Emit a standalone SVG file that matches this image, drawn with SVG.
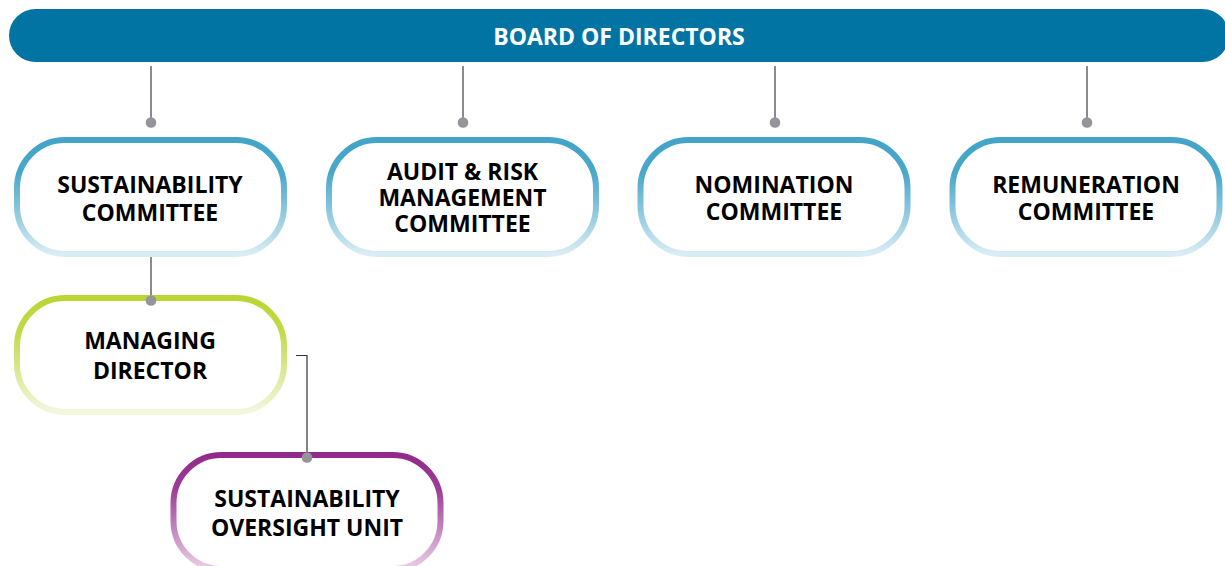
<svg xmlns="http://www.w3.org/2000/svg" width="1225" height="566" viewBox="0 0 1225 566">
  <defs>
    <linearGradient id="gBlue" x1="0" y1="0" x2="0" y2="1">
      <stop offset="0" stop-color="#43a4c8"/>
      <stop offset="0.3" stop-color="#4aa8ca"/>
      <stop offset="1" stop-color="#d9edf4"/>
    </linearGradient>
    <linearGradient id="gGreen" x1="0" y1="0" x2="0" y2="1">
      <stop offset="0" stop-color="#bbd532"/>
      <stop offset="0.3" stop-color="#c3da4c"/>
      <stop offset="1" stop-color="#f2f7de"/>
    </linearGradient>
    <linearGradient id="gPurple" x1="0" y1="0" x2="0" y2="1">
      <stop offset="0" stop-color="#922a8b"/>
      <stop offset="0.3" stop-color="#9c3d96"/>
      <stop offset="1" stop-color="#ead0e6"/>
    </linearGradient>
  </defs>
  <style>
    text { font-family: "Open Sans", "Liberation Sans", sans-serif; font-weight: bold; font-size: 23px; text-anchor: middle; fill: #000; }
    .title { fill: #fff; }
    .box { fill: #fff; stroke-width: 6; }
    .blue { stroke: url(#gBlue); }
    .green { stroke: url(#gGreen); }
    .purple { stroke: url(#gPurple); }
    .link { stroke: #6d6e71; stroke-width: 1.6; fill: none; }
    .thin { stroke: #333; stroke-width: 1.2; fill: none; }
    .dot { fill: #939598; }
  </style>

  <!-- top bar -->
  <g id="board">
    <rect x="9" y="9" width="1220" height="53" rx="26.5" fill="#0274a3"/>
    <text class="title" x="619" y="45">BOARD OF DIRECTORS</text>
  </g>

  <!-- reporting lines -->
  <g id="connectors">
    <line class="link" x1="151" y1="66" x2="151" y2="122"/>
    <line class="link" x1="463" y1="66" x2="463" y2="122"/>
    <line class="link" x1="775" y1="66" x2="775" y2="122"/>
    <line class="link" x1="1087" y1="66" x2="1087" y2="122"/>
    <line class="link" x1="151" y1="252" x2="151" y2="300"/>
    <path class="thin" d="M296,355.5 H307 V457"/>
    <circle class="dot" cx="151" cy="122.5" r="5.3"/>
    <circle class="dot" cx="463" cy="122.5" r="5.3"/>
    <circle class="dot" cx="775" cy="122.5" r="5.3"/>
    <circle class="dot" cx="1087" cy="122.5" r="5.3"/>
  </g>

  <g id="sustainability-committee">
    <rect class="box blue" x="17" y="140" width="267" height="114" rx="48"/>
    <text x="150" y="193">SUSTAINABILITY</text>
    <text x="150" y="221">COMMITTEE</text>
  </g>

  <g id="audit-risk-committee">
    <rect class="box blue" x="329" y="140" width="267" height="114" rx="48"/>
    <text x="462.5" y="180">AUDIT &amp; RISK</text>
    <text x="462.5" y="206">MANAGEMENT</text>
    <text x="462.5" y="232">COMMITTEE</text>
  </g>

  <g id="nomination-committee">
    <rect class="box blue" x="640.5" y="140" width="267" height="114" rx="48"/>
    <text x="774" y="193">NOMINATION</text>
    <text x="774" y="220">COMMITTEE</text>
  </g>

  <g id="remuneration-committee">
    <rect class="box blue" x="952.5" y="140" width="267" height="114" rx="48"/>
    <text x="1086" y="193">REMUNERATION</text>
    <text x="1086" y="220">COMMITTEE</text>
  </g>

  <g id="managing-director">
    <rect class="box green" x="17" y="298" width="267" height="114" rx="48"/>
    <text x="150" y="349">MANAGING</text>
    <text x="150" y="379">DIRECTOR</text>
    <circle class="dot" cx="151" cy="300.5" r="5.3"/>
  </g>

  <g id="sustainability-oversight-unit">
    <rect class="box purple" x="173.5" y="455" width="267" height="114" rx="48"/>
    <text x="307" y="507">SUSTAINABILITY</text>
    <text x="307" y="536">OVERSIGHT UNIT</text>
    <circle class="dot" cx="307" cy="457.5" r="5.3"/>
  </g>
</svg>
